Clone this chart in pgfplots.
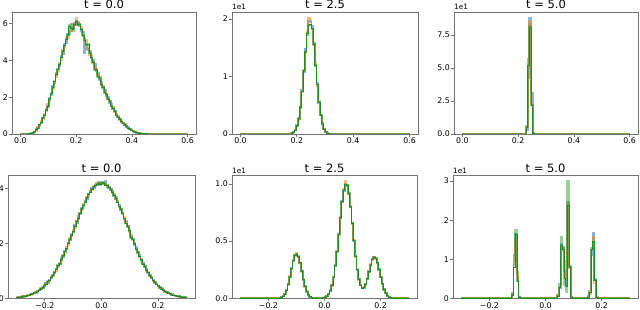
\documentclass[border=0pt]{standalone}
\usepackage{fontspec}
\setmainfont{DejaVu Sans}
\usepackage{pgfplots}
\usepackage{pgfplotstable}
\pgfplotsset{compat=1.18}
\definecolor{mblue}{HTML}{1F77B4}
\definecolor{morange}{HTML}{FF7F0E}
\definecolor{mgreen}{HTML}{2CA02C}

\pgfplotstableread{
x a b c d
0.000 0 0 0 0
0.030 .01 .02 .01 .01
0.036 .02 .03 .05 .04
0.042 .08 .05 .07 .07
0.048 .10 .14 .12 .12
0.054 .22 .18 .25 .24
0.060 .30 .36 .31 .32
0.066 .50 .44 .52 .50
0.072 .62 .70 .60 .62
0.078 .88 .80 .90 .88
0.084 1.00 1.10 1.02 1.03
0.090 1.35 1.22 1.33 1.30
0.096 1.50 1.62 1.48 1.50
0.102 1.95 1.80 1.90 1.90
0.108 2.10 2.25 2.20 2.18
0.114 2.60 2.45 2.55 2.55
0.120 2.75 2.90 2.85 2.85
0.126 3.20 3.10 3.30 3.25
0.132 3.55 3.40 3.50 3.50
0.138 3.70 3.85 3.80 3.80
0.144 4.25 4.00 4.15 4.15
0.150 4.35 4.55 4.50 4.50
0.156 4.90 4.70 4.80 4.80
0.162 4.95 5.10 5.20 5.15
0.168 5.45 5.20 5.35 5.35
0.174 5.40 5.60 5.90 5.85
0.180 6.00 5.60 5.75 5.75
0.186 5.75 5.95 5.60 5.65
0.192 6.05 5.90 5.95 5.95
0.198 5.90 6.30 6.15 6.10
0.204 6.10 6.05 5.90 5.95
0.210 5.85 6.00 5.95 5.95
0.216 5.60 5.80 5.70 5.70
0.222 5.55 5.40 5.30 5.35
0.228 4.40 5.20 5.10 5.10
0.234 4.85 5.10 4.80 4.85
0.240 4.60 4.55 4.90 4.85
0.246 4.50 4.30 4.40 4.40
0.252 4.10 4.30 4.15 4.15
0.258 4.00 3.85 3.90 3.90
0.264 3.80 3.60 3.45 3.50
0.270 3.40 3.55 3.50 3.50
0.276 3.30 3.20 3.10 3.15
0.282 2.90 3.10 3.05 3.00
0.288 2.80 2.70 2.65 2.70
0.294 2.50 2.60 2.55 2.55
0.300 2.40 2.30 2.20 2.25
0.306 2.05 2.20 2.15 2.15
0.312 2.00 1.90 1.90 1.90
0.318 1.70 1.80 1.80 1.78
0.324 1.62 1.55 1.50 1.52
0.330 1.35 1.45 1.40 1.40
0.336 1.28 1.20 1.25 1.25
0.342 1.05 1.10 1.00 1.02
0.348 .90 .98 .92 .92
0.354 .82 .76 .80 .80
0.360 .65 .72 .68 .68
0.366 .62 .58 .57 .58
0.372 .47 .53 .50 .50
0.378 .35 .44 .42 .42
0.384 .37 .30 .33 .33
0.390 .25 .30 .26 .26
0.396 .22 .20 .19 .20
0.402 .14 .18 .16 .16
0.408 .13 .11 .12 .12
0.414 .07 .09 .08 .08
0.420 .06 .07 .05 .05
0.426 .03 .04 .05 .05
0.432 .02 .03 .03 .03
0.438 .02 .01 .02 .02
0.444 .01 .02 .01 .01
0.450 0 .01 .01 .01
0.456 0 0 0 0
0.600 0 0 0 0
}\tA

\pgfplotstableread{
x a b c d
0.000 0 0 0 0
0.180 .10 .15 .12 .12
0.186 .35 .25 .30 .30
0.192 .60 .75 .70 .70
0.198 1.50 1.30 1.45 1.42
0.204 2.80 2.60 2.65 2.66
0.210 4.50 4.90 4.70 4.70
0.216 7.70 7.30 7.40 7.40
0.222 10.7 11.2 11.0 11.0
0.228 14.8 14.1 14.3 14.3
0.234 17.2 17.9 17.5 17.5
0.240 19.6 20.2 18.9 18.8
0.246 19.4 19.9 19.0 19.0
0.252 18.8 18.2 18.3 18.3
0.258 15.9 15.4 15.6 15.6
0.264 11.8 12.3 12.0 12.0
0.270 8.80 8.40 8.60 8.60
0.276 5.40 5.70 5.50 5.50
0.282 3.40 3.20 3.30 3.30
0.288 1.75 1.85 1.80 1.80
0.294 .90 .85 .85 .86
0.300 .40 .35 .40 .40
0.306 .15 .18 .16 .16
0.312 .05 .07 .06 .06
0.318 0 0 0 0
0.600 0 0 0 0
}\tB

\pgfplotstableread{
x a b c d
0.000 0 0 0 0
0.228 3 5 6 5
0.234 42 50 57 52
0.240 88 85 82 81
0.246 31 23 22 22
0.252 1 0.5 0.8 0.6
0.258 0 0 0 0
0.600 0 0 0 0
}\tC

\pgfplotstableread{
x a b c d
-0.300 .03 .04 .03 .03
-0.294 .04 .03 .05 .04
-0.288 .05 .05 .04 .05
-0.282 .06 .05 .07 .06
-0.276 .07 .08 .06 .07
-0.270 .08 .07 .09 .08
-0.264 .10 .11 .09 .10
-0.258 .10 .12 .12 .11
-0.252 .15 .13 .14 .14
-0.246 .14 .17 .16 .16
-0.240 .20 .18 .21 .20
-0.234 .23 .24 .20 .21
-0.228 .24 .26 .27 .26
-0.222 .31 .28 .30 .30
-0.216 .33 .36 .35 .35
-0.210 .41 .38 .38 .38
-0.204 .43 .47 .46 .46
-0.198 .55 .50 .52 .52
-0.192 .56 .60 .62 .60
-0.186 .68 .64 .65 .65
-0.180 .72 .78 .76 .76
-0.174 .86 .80 .85 .84
-0.168 .90 .96 .95 .94
-0.162 1.07 1.00 1.05 1.05
-0.156 1.18 1.12 1.20 1.18
-0.150 1.24 1.30 1.25 1.26
-0.144 1.45 1.36 1.40 1.40
-0.138 1.50 1.57 1.55 1.55
-0.132 1.72 1.64 1.70 1.70
-0.126 1.78 1.86 1.80 1.80
-0.120 2.02 1.94 2.00 2.00
-0.114 2.10 2.18 2.15 2.14
-0.108 2.35 2.25 2.30 2.30
-0.102 2.40 2.50 2.42 2.43
-0.096 2.65 2.55 2.62 2.62
-0.090 2.72 2.82 2.80 2.80
-0.084 2.98 2.88 2.90 2.90
-0.078 3.05 3.12 3.10 3.10
-0.072 3.30 3.20 3.25 3.25
-0.066 3.35 3.42 3.38 3.38
-0.060 3.55 3.48 3.50 3.50
-0.054 3.62 3.70 3.65 3.65
-0.048 3.80 3.72 3.78 3.77
-0.042 3.85 3.90 3.85 3.86
-0.036 4.00 3.92 3.98 3.97
-0.030 4.02 4.08 4.05 4.05
-0.024 4.12 4.06 4.10 4.10
-0.018 4.10 4.18 4.15 4.15
-0.012 4.22 4.15 4.20 4.19
-0.006 4.16 4.20 4.12 4.13
0.000 4.20 4.15 4.22 4.20
0.006 4.15 4.21 4.18 4.18
0.012 4.26 4.12 4.10 4.11
0.018 4.05 4.13 4.12 4.12
0.024 4.06 4.00 4.02 4.02
0.030 3.92 3.99 3.96 3.96
0.036 3.90 3.84 3.85 3.85
0.042 3.72 3.79 3.75 3.75
0.048 3.67 3.60 3.62 3.62
0.054 3.48 3.54 3.50 3.50
0.060 3.40 3.35 3.32 3.33
0.066 3.20 3.25 3.24 3.24
0.072 3.10 3.05 3.08 3.08
0.078 2.88 2.95 2.90 2.90
0.084 2.80 2.74 2.72 2.73
0.090 2.57 2.64 2.62 2.62
0.096 2.47 2.40 2.45 2.45
0.102 2.25 2.32 2.20 2.22
0.108 2.15 2.10 2.14 2.13
0.114 1.94 2.00 1.98 1.98
0.120 1.85 1.80 1.78 1.79
0.126 1.64 1.70 1.68 1.68
0.132 1.56 1.50 1.52 1.52
0.138 1.36 1.42 1.40 1.40
0.144 1.30 1.25 1.24 1.25
0.150 1.12 1.18 1.16 1.16
0.156 1.06 1.00 1.02 1.02
0.162 .90 .95 .94 .94
0.168 .86 .81 .82 .82
0.174 .72 .77 .75 .75
0.180 .68 .64 .65 .65
0.186 .56 .60 .59 .59
0.192 .53 .50 .50 .50
0.198 .43 .46 .46 .46
0.204 .40 .38 .37 .38
0.210 .33 .36 .34 .34
0.216 .30 .28 .30 .30
0.222 .24 .27 .25 .25
0.228 .23 .20 .22 .22
0.234 .18 .21 .19 .19
0.240 .17 .15 .16 .16
0.246 .13 .15 .13 .13
0.252 .12 .10 .11 .11
0.258 .09 .10 .10 .10
0.264 .08 .09 .07 .08
0.270 .07 .06 .07 .07
0.276 .05 .06 .06 .06
0.282 .05 .04 .05 .05
0.288 .04 .04 .03 .04
0.294 .03 .03 .04 .03
0.300 0 0 0 0
}\tD

\pgfplotstableread{
x a b c d
-0.300 0 0 0 0
-0.168 .01 .02 .01 .01
-0.162 .03 .04 .03 .03
-0.156 .09 .07 .08 .08
-0.150 .17 .20 .18 .18
-0.144 .40 .36 .38 .38
-0.138 .68 .75 .72 .71
-0.132 1.25 1.18 1.22 1.22
-0.126 1.83 1.92 1.88 1.87
-0.120 2.65 2.55 2.60 2.60
-0.114 3.25 3.35 3.30 3.30
-0.108 3.80 3.72 3.78 3.77
-0.102 3.85 3.95 3.90 3.88
-0.096 3.68 3.60 3.62 3.63
-0.090 3.05 3.12 3.10 3.10
-0.084 2.40 2.33 2.38 2.37
-0.078 1.60 1.68 1.64 1.64
-0.072 1.05 1.00 1.03 1.03
-0.066 .57 .62 .59 .59
-0.060 .31 .28 .30 .30
-0.054 .13 .15 .14 .14
-0.048 .06 .05 .06 .06
-0.042 .02 .03 .02 .02
-0.036 .01 .01 .01 .01
-0.030 0 0 0 0
-0.012 .02 .01 .02 .02
-0.006 .04 .05 .04 .04
0.000 .10 .08 .09 .09
0.006 .17 .19 .18 .18
0.012 .36 .33 .35 .35
0.018 .64 .69 .66 .66
0.024 1.18 1.10 1.14 1.14
0.030 1.82 1.90 1.86 1.86
0.036 2.92 2.80 2.86 2.86
0.042 4.05 4.18 4.10 4.11
0.048 5.62 5.50 5.58 5.56
0.054 7.00 7.15 7.05 7.07
0.060 8.50 8.38 8.45 8.44
0.066 9.40 9.55 9.48 9.46
0.072 10.05 10.25 9.95 9.97
0.078 9.80 9.90 9.88 9.86
0.084 9.22 9.10 9.15 9.17
0.090 7.95 8.08 8.00 8.01
0.096 6.62 6.50 6.58 6.57
0.102 5.00 5.12 5.05 5.06
0.108 3.72 3.62 3.68 3.68
0.114 2.48 2.57 2.52 2.52
0.120 1.70 1.63 1.67 1.67
0.126 1.12 1.17 1.14 1.14
0.132 .92 .87 .90 .90
0.138 .92 .97 .94 .94
0.144 1.25 1.18 1.22 1.22
0.150 1.68 1.76 1.72 1.72
0.156 2.36 2.28 2.32 2.32
0.162 2.88 2.97 2.92 2.92
0.168 3.44 3.35 3.39 3.39
0.174 3.58 3.66 3.60 3.60
0.180 3.52 3.45 3.49 3.49
0.186 3.06 3.14 3.10 3.10
0.192 2.55 2.47 2.51 2.51
0.198 1.82 1.90 1.86 1.86
0.204 1.29 1.23 1.26 1.26
0.210 .76 .80 .78 .78
0.216 .45 .42 .44 .44
0.222 .22 .24 .23 .23
0.228 .12 .10 .11 .11
0.234 .05 .06 .05 .05
0.240 .02 .02 .02 .02
0.246 .01 .01 .01 .01
0.252 0 0 0 0
0.300 0 0 0 0
}\tE

\pgfplotstableread{
x a b c d
-0.300 0 0 0 0
-0.120 1.2 0.8 1.3 0.8
-0.114 11 9.5 8.5 8
-0.108 16.5 15.5 17.5 16.3
-0.102 4.5 5.5 6.8 4.3
-0.096 .3 .2 .4 .3
-0.090 0 0 0 0
0.042 .6 .8 .9 .6
0.048 2.5 3 3.7 2.8
0.054 14 12.8 15.8 13.5
0.060 13 12 13.2 12.5
0.066 7 9.5 3.4 5
0.072 3.5 5 1.7 3
0.078 24.8 24.2 30 23.7
0.084 8 7.8 8.3 8
0.090 .3 .2 .4 .3
0.096 0 0 0 0
0.150 .3 .2 .5 .3
0.156 1.5 1.2 2.0 1.6
0.162 11 12.5 13 12.5
0.168 16.8 15.8 14.5 14.5
0.174 5 4 4.6 4.6
0.180 .2 .1 .3 .2
0.186 0 0 0 0
0.300 0 0 0 0
}\tF

\pgfplotsset{
  hax/.style={
    scale only axis, anchor=south west,
    axis line style={draw=black!55, line width=0.9pt},
    tick align=outside, major tick length=2.8pt,
    tick style={draw=black!55, line width=0.7pt},
    xtick pos=left, ytick pos=left,
    ticklabel style={font=\fontsize{7.8}{9}\selectfont, inner sep=1.2pt},
    /pgf/number format/assume math mode=true,
    every axis title/.style={font=\fontsize{11.5}{13}\selectfont, at={(0.5,1)}, anchor=base, yshift=3pt, inner sep=0pt},
    ymin=0, clip mode=individual,
  },
  hb/.style={const plot, draw=mblue, opacity=0.55, line width=1.8pt, no markers},
  ho/.style={const plot, draw=morange, opacity=0.55, line width=1.8pt, no markers},
  hg/.style={const plot, draw=mgreen, opacity=0.5, line width=1.8pt, no markers},
  hd/.style={const plot, draw=mgreen!85!black, line width=0.8pt, no markers},
  offs/.style={extra description/.code={\node[anchor=base west, inner sep=0pt, font=\fontsize{7.3}{8}\selectfont] at ([yshift=2pt]rel axis cs:0,1) {1e1};}},
}
\newcommand{\hists}[1]{%
  \addplot[hb] table[x=x,y=a]{#1};
  \addplot[ho] table[x=x,y=b]{#1};
  \addplot[hg] table[x=x,y=c]{#1};
  \addplot[hd] table[x=x,y=d]{#1};
}

\begin{document}
\begin{tikzpicture}
\path[use as bounding box] (0,0) rectangle (640pt,310pt);

% top row
\begin{axis}[hax, at={(12pt,176pt)}, width=184pt, height=122pt,
  xmin=-0.03, xmax=0.63, ymax=6.62,
  xtick={0,0.2,0.4,0.6}, xticklabels={0.0,0.2,0.4,0.6},
  ytick={0,2,4,6}, yticklabels={0,2,4,6}, title={t = 0.0}]
\hists{\tA}
\end{axis}

\begin{axis}[hax, offs, at={(232pt,176pt)}, width=186pt, height=122pt,
  xmin=-0.03, xmax=0.63, ymax=21.2,
  xtick={0,0.2,0.4,0.6}, xticklabels={0.0,0.2,0.4,0.6},
  ytick={0,10,20}, yticklabels={0,1,2}, title={t = 2.5}]
\hists{\tB}
\end{axis}

\begin{axis}[hax, offs, at={(454pt,176pt)}, width=184pt, height=122pt,
  xmin=-0.03, xmax=0.63, ymax=92.4,
  xtick={0,0.2,0.4,0.6}, xticklabels={0.0,0.2,0.4,0.6},
  ytick={0,25,50,75}, yticklabels={0.0,2.5,5.0,7.5}, title={t = 5.0}]
\hists{\tC}
\end{axis}

% bottom row
\begin{axis}[hax, at={(8pt,11.7pt)}, width=187pt, height=123pt,
  xmin=-0.33, xmax=0.33, ymax=4.47,
  xtick={-0.2,0,0.2}, xticklabels={−0.2,0.0,0.2},
  ytick={0,2,4}, yticklabels={0,2,4}, title={t = 0.0}]
\hists{\tD}
\end{axis}

\begin{axis}[hax, offs, at={(232pt,11.7pt)}, width=185pt, height=123pt,
  xmin=-0.33, xmax=0.33, ymax=10.76,
  xtick={-0.2,0,0.2}, xticklabels={−0.2,0.0,0.2},
  ytick={0,5,10}, yticklabels={0.0,0.5,1.0}, title={t = 2.5}]
\hists{\tE}
\end{axis}

\begin{axis}[hax, offs, at={(453pt,11.7pt)}, width=185pt, height=123pt,
  xmin=-0.33, xmax=0.33, ymax=31.5,
  xtick={-0.2,0,0.2}, xticklabels={−0.2,0.0,0.2},
  ytick={0,10,20,30}, yticklabels={0,1,2,3}, title={t = 5.0}]
\hists{\tF}
\end{axis}
\end{tikzpicture}
\end{document}
